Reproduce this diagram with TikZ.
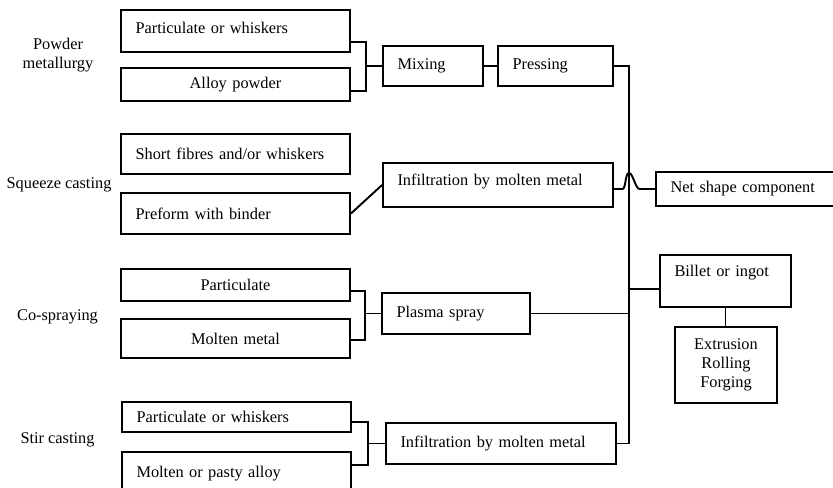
\documentclass[tikz,border=0pt]{standalone}
\usepackage{fontspec}
\setmainfont{Liberation Serif}
\usetikzlibrary{positioning,calc}

\begin{document}
\begin{tikzpicture}[
        pbox/.style={draw, line width=1.1pt, inner xsep=0.29cm, inner ysep=0pt, align=left,
                     font=\fontsize{9.3}{10.8}\selectfont},
        route/.style={line width=1.1pt},
        proc/.style={align=center, font=\fontsize{9.3}{10.8}\selectfont}
    ]
    \useasboundingbox (0,0) rectangle (16.66,-9.76);
    \clip (0,0) rectangle (16.66,-9.76);

    % process names
    \node[proc] (lpm) at (1.16,-1.11) {Powder\\metallurgy};
    \node[proc] (lsq) at (1.18,-3.70) {Squeeze casting};
    \node[proc] (lcs) at (1.15,-6.34) {Co-spraying};
    \node[proc] (lst) at (1.15,-8.80) {Stir casting};

    % raw materials
    \node[pbox, text width=4.0cm, minimum height=0.84cm] (pw1) at (4.71,-0.62) {\raisebox{0.06cm}[\height][\depth]{Particulate or whiskers}};
    \node[pbox, text width=4.0cm, minimum height=0.66cm, align=center] (pw2) at (4.71,-1.69) {Alloy powder};
    \node[pbox, text width=4.0cm, minimum height=0.80cm] (sq1) at (4.71,-3.08) {Short fibres and/or whiskers};
    \node[pbox, text width=4.0cm, minimum height=0.82cm] (sq2) at (4.71,-4.27) {Preform with binder};
    \node[pbox, text width=4.0cm, minimum height=0.64cm, align=center] (cs1) at (4.71,-5.70) {Particulate};
    \node[pbox, text width=4.0cm, minimum height=0.78cm, align=center] (cs2) at (4.71,-6.77) {Molten metal};
    \node[pbox, text width=4.0cm, minimum height=0.60cm] (st1) at (4.73,-8.34) {Particulate or whiskers};
    \node[pbox, text width=4.0cm, minimum height=0.88cm] (st2) at (4.73,-9.48) {Molten or pasty alloy};

    % steps
    \node[pbox, text width=1.42cm, minimum height=0.80cm] (mix) at (8.66,-1.32) {Mixing};
    \node[pbox, text width=1.72cm, minimum height=0.80cm] (press) at (11.11,-1.32) {Pressing};
    \node[pbox, text width=4.02cm, minimum height=0.88cm] (inf1) at (9.96,-3.70) {\raisebox{0.06cm}[\height][\depth]{Infiltration by molten metal}};
    \node[pbox, text width=2.38cm, minimum height=0.82cm] (plasma) at (9.12,-6.27) {Plasma spray};
    \node[pbox, text width=4.02cm, minimum height=0.82cm] (inf2) at (10.02,-8.87) {Infiltration by molten metal};

    % products
    \node[pbox, text width=3.2cm, minimum height=0.68cm] (net) at (15.01,-3.78) {Net shape component};
    \node[pbox, text width=2.04cm, minimum height=1.04cm] (billet) at (14.51,-5.62) {\raisebox{0.16cm}[\height][\depth]{Billet or ingot}};
    \node[pbox, text width=1.46cm, minimum height=1.52cm, align=center] (extr) at (14.52,-7.30) {Extrusion\\Rolling\\Forging};

    % joints
    \coordinate (pwj) at ([xshift=-0.32cm]mix.west);
    \coordinate (csj) at ([xshift=-0.32cm]plasma.west);
    \coordinate (stj) at ([xshift=-0.34cm]inf2.west);
    \coordinate (bus) at (12.58,0);
    \coordinate (hop) at (bus |- net.west);
    \coordinate (bl) at ([yshift=-0.16cm]billet.west);

    \draw[route] ([yshift=-0.22cm]pw1.east) -| (pwj) |- ([yshift=-0.13cm]pw2.east);
    \draw[route] (pwj) -- (mix.west);
    \draw[route] (mix.east) -- (press.west);
    \draw[route] (sq2.east) -- (inf1.west);
    \draw[route] ([yshift=-0.12cm]cs1.east) -| (csj) |- ([yshift=-0.03cm]cs2.east);
    \draw[route] (csj) -- (plasma.west);
    \draw[route] ([yshift=-0.10cm]st1.east) -| (stj) |- ([yshift=0.18cm]st2.east);
    \draw[route] (stj) -- (inf2.west);

    \draw[route] (press.east) -| (bus |- inf2.east) -- (inf2.east);
    \draw[route] (plasma.east) -- (plasma.east -| bus);
    \draw[route] (bl -| bus) -- (bl);
    \draw[route] (billet.south) -- (billet.south |- extr.north);
    \draw[route] (inf1.east |- hop) -- ([xshift=-0.13cm]hop)
        .. controls +(0.07,0) and +(-0.08,0) .. ([yshift=0.32cm]hop)
        .. controls +(0.08,0) and +(-0.08,0) .. ([xshift=0.21cm]hop) -- (net.west);
\end{tikzpicture}
\end{document}
